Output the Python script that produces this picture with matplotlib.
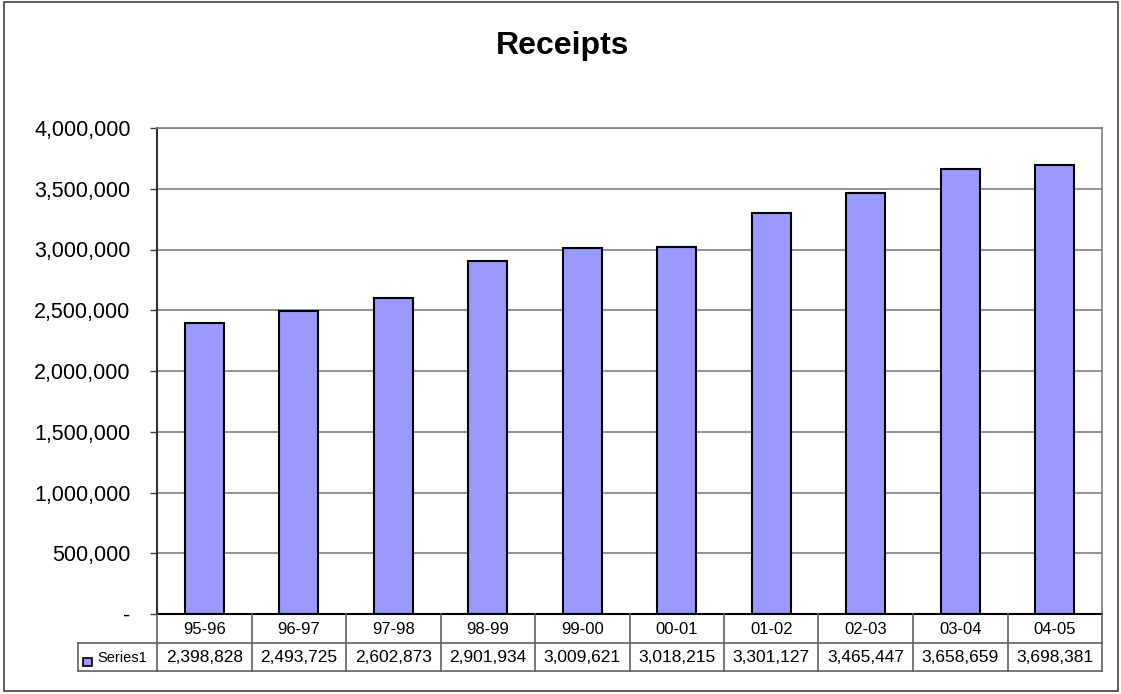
import numpy as np
import matplotlib.pyplot as plt
from matplotlib.patches import Rectangle
from matplotlib.ticker import FuncFormatter

plt.rcParams['font.family'] = ['Liberation Sans', 'DejaVu Sans']

# data
categories = ['95-96', '96-97', '97-98', '98-99', '99-00',
              '00-01', '01-02', '02-03', '03-04', '04-05']
receipts = [2398828, 2493725, 2602873, 2901934, 3009621,
            3018215, 3301127, 3465447, 3658659, 3698381]
series_name = 'Series1'
bar_color = '#9999FF'

W, H = 1121, 694
fig = plt.figure(figsize=(W / 100, H / 100), dpi=100)


def fx(px):
    return px / W


def fy(py):
    return 1 - py / H


# outer chart border
fig.patches.append(Rectangle((fx(4), fy(691)), fx(1118) - fx(4), fy(2) - fy(691),
                             transform=fig.transFigure, fill=False,
                             edgecolor='#404040', linewidth=1.2))

left, right, top, bottom = 157, 1102, 128, 614
ax = fig.add_axes([fx(left), fy(bottom), fx(right) - fx(left), fy(top) - fy(bottom)])

x = np.arange(len(categories))
ax.bar(x, receipts, width=0.41, color=bar_color, edgecolor='black',
       linewidth=1.5, zorder=3)

ax.set_xlim(-0.5, len(categories) - 0.5)
ax.set_ylim(0, 4000000)
ax.set_yticks(np.arange(0, 4000001, 500000))
ax.yaxis.set_major_formatter(FuncFormatter(lambda v, p: '-' if v == 0 else '{:,.0f}'.format(v)))
ax.tick_params(axis='y', labelsize=15.5, length=5, width=1, color='#404040', pad=14)
ax.set_xticks([])
ax.grid(axis='y', color='#808080', linewidth=1.2, zorder=0)

for side in ['top', 'right']:
    ax.spines[side].set_color('#808080')
    ax.spines[side].set_linewidth(1.2)
ax.spines['left'].set_color('#303030')
ax.spines['left'].set_linewidth(1.5)
ax.spines['bottom'].set_color('black')
ax.spines['bottom'].set_linewidth(1.5)
ax.spines['bottom'].set_zorder(4)

fig.text(fx(563), fy(46), 'Receipts', ha='center', va='center',
         fontsize=23, fontweight='bold')

# data table under the axis
row1, row2, row3 = 614, 643, 671
tab_left = 78
line_kw = dict(color='#606060', linewidth=1.2)
n = len(categories)
xpix = np.linspace(left, right, n + 1)
for xp in xpix:
    fig.add_artist(plt.Line2D([fx(xp), fx(xp)], [fy(row1), fy(row3)], **line_kw))
fig.add_artist(plt.Line2D([fx(tab_left), fx(tab_left)], [fy(row2), fy(row3)], **line_kw))
fig.add_artist(plt.Line2D([fx(tab_left), fx(right)], [fy(row2), fy(row2)], **line_kw))
fig.add_artist(plt.Line2D([fx(tab_left), fx(right)], [fy(row3), fy(row3)], **line_kw))

for i, (cat, val) in enumerate(zip(categories, receipts)):
    cx = (xpix[i] + xpix[i + 1]) / 2
    fig.text(fx(cx), fy((row1 + row2) / 2 + 1), cat, ha='center', va='center', fontsize=12)
    fig.text(fx(cx), fy((row2 + row3) / 2 + 1), '{:,}'.format(val),
             ha='center', va='center', fontsize=12.5)

fig.patches.append(Rectangle((fx(83), fy(666)), fx(92) - fx(83), fy(658) - fy(666),
                             transform=fig.transFigure, facecolor=bar_color,
                             edgecolor='black', linewidth=1.2))
fig.text(fx(97), fy((row2 + row3) / 2 + 1), series_name, ha='left', va='center',
         fontsize=10.5)

fig.savefig('out.png', dpi=100)
